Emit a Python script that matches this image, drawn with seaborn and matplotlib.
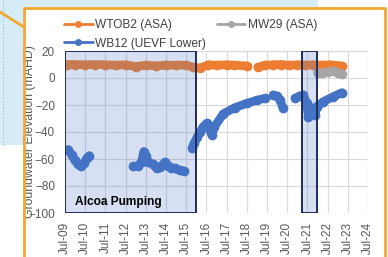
import numpy as np
import pandas as pd
import seaborn as sns
import matplotlib.pyplot as plt
from matplotlib.lines import Line2D
from matplotlib.patches import Rectangle

# Data (decimal years, groundwater elevation mAHD)
wtob2_years = [[2009.6, 2010.0, 2010.5, 2011.0, 2011.5, 2012.0, 2012.5, 2013.0, 2013.5, 2014.0,
                2014.5, 2015.0, 2015.5, 2015.85, 2016.2, 2016.6, 2017.0, 2017.5, 2017.85, 2018.5],
               [2019.05, 2019.4, 2019.8, 2020.2, 2020.6, 2021.0, 2021.4, 2021.8, 2022.2, 2022.6, 2023.2]]
wtob2_values = [[10.0, 10.0, 9.8, 10.0, 9.8, 9.5, 9.8, 8.5, 9.5, 9.0,
                 9.5, 9.5, 9.5, 8.0, 7.5, 9.8, 9.5, 9.8, 9.5, 9.0],
                [8.0, 9.5, 9.8, 10.0, 9.5, 9.8, 9.5, 9.8, 9.5, 9.8, 9.0]]

mw29_years = [[2022.0, 2022.2, 2022.5, 2022.8, 2023.0, 2023.2]]
mw29_values = [[4.0, 3.5, 4.5, 5.0, 4.0, 3.0]]

wb12_years = [[2009.66, 2009.83, 2009.99, 2010.16, 2010.29, 2010.44, 2010.57, 2010.70],
              [2012.88, 2013.12, 2013.29, 2013.40, 2013.49, 2013.62, 2013.87, 2014.03, 2014.20,
               2014.44, 2014.61, 2014.77, 2014.94, 2015.18, 2015.38],
              [2015.80, 2015.90, 2016.05, 2016.18, 2016.35, 2016.51, 2016.62, 2016.76, 2016.90,
               2017.34, 2017.90, 2018.50, 2019.00, 2019.40],
              [2019.81, 2020.00, 2020.14, 2020.30],
              [2020.89, 2021.10, 2021.30, 2021.46, 2021.55, 2021.71, 2021.88, 2021.96, 2022.29,
               2022.78, 2023.20]]
wb12_values = [[-53, -57, -61, -64, -65.5, -63, -59.5, -57.5],
               [-65.5, -65, -62, -54.5, -58, -62, -64, -67, -66, -62.5, -65, -66.5, -67, -68.5, -69],
               [-52, -48, -44, -40, -36, -33.6, -37, -42, -36, -26.5, -22, -18.8, -16.5, -15],
               [-12.6, -13.5, -16.3, -22.5],
               [-15, -13.5, -12.6, -18.8, -28.6, -22.5, -27.4, -21.2, -17.5, -13.8, -10.9]]

pumping_periods = [(2009.5, 2016.0), (2021.25, 2022.0)]
tick_years = [2009.5 + k for k in range(16)]
tick_labels = ['Jul-%02d' % (9 + k) for k in range(16)]

series = [('WTOB2 (ASA)', '#ed7d31', wtob2_years, wtob2_values),
          ('MW29 (ASA)', '#a5a5a5', mw29_years, mw29_values),
          ('WB12 (UEVF Lower)', '#4472c4', wb12_years, wb12_values)]

sns.set_theme(style='white')
plt.rcParams['font.family'] = ['Liberation Sans', 'DejaVu Sans']

fig = plt.figure(figsize=(3.88, 2.57), dpi=100)
ax = fig.add_axes([65 / 388, 1 - 213 / 257, 303 / 388, 162 / 257])

# slide decorations behind the chart
fig.patches.append(Rectangle((0, 1 - 7 / 257), 318 / 388, 7 / 257, transform=fig.transFigure,
                             facecolor='#d6edf9', edgecolor='none', zorder=0))
fig.patches.append(Rectangle((0, 1 - 145 / 257), 23 / 388, 145 / 257, transform=fig.transFigure,
                             facecolor='#d6edf9', edgecolor='none', zorder=0))
fig.lines.append(Line2D([3 / 388, 3 / 388], [1 - 145 / 257, 1], transform=fig.transFigure,
                        color='#9fb6c6', lw=0.6, ls=(0, (2, 2)), zorder=1))
orange = '#f0a830'
fig.lines.append(Line2D([0, 24 / 388], [1 - 12 / 257, 1 - 27 / 257], transform=fig.transFigure,
                        color=orange, lw=2, zorder=2))
fig.lines.append(Line2D([24 / 388, 24 / 388, 385 / 388, 385 / 388],
                        [0, 1 - 8 / 257, 1 - 8 / 257, 0], transform=fig.transFigure,
                        color=orange, lw=2, zorder=2))

for name, color, years, values in series:
    for seg_x, seg_y in zip(years, values):
        seg = pd.DataFrame({'year': seg_x, 'level': seg_y})
        sns.lineplot(data=seg, x='year', y='level', ax=ax, color=color, lw=6.2,
                     marker='o', markersize=7, markeredgewidth=0, sort=False,
                     estimator=None, solid_capstyle='round', solid_joinstyle='round')

for x0, x1 in pumping_periods:
    ax.add_patch(Rectangle((x0, -100), x1 - x0, 120, facecolor=(0.27, 0.45, 0.77, 0.22),
                           edgecolor='#1f2d5a', lw=1.4, zorder=5))

ax.text(2010.0, -91.5, 'Alcoa Pumping', fontsize=8.6, fontweight='bold', color='black',
        va='center', zorder=6)

ax.set_xlim(2009.5, 2024.5)
ax.set_ylim(-100, 20)
ax.set_xticks(tick_years)
ax.set_xticklabels(tick_labels, rotation=90)
ax.set_yticks(range(-100, 21, 20))
ax.grid(True, color='#d9d9d9', lw=0.8)
for s in ax.spines.values():
    s.set_visible(False)
ax.tick_params(axis='x', labelsize=8.5, colors='#595959', pad=6.5, length=0)
ax.tick_params(axis='y', labelsize=8.5, colors='#595959', pad=7.2, length=0)
ax.set_xlabel('')
ax.set_ylabel('Groundwater Elevation (mAHD)', fontsize=8.8, color='#595959')
ax.yaxis.set_label_coords(-0.097, 0.5)

handles = [Line2D([], [], color=c, lw=2, marker='o', markersize=5, markeredgewidth=0)
           for c in ['#ed7d31', '#4472c4', '#a5a5a5']]
labels = ['WTOB2 (ASA)', 'WB12 (UEVF Lower)', 'MW29 (ASA)']
fig.legend(handles, labels, ncol=2, loc='upper left', bbox_to_anchor=(64 / 388, 1 - 19 / 257),
           frameon=False, fontsize=8.6, handlelength=2.4, handletextpad=0.2,
           columnspacing=0.9, labelspacing=0.55, borderpad=0, borderaxespad=0,
           labelcolor='#404040')

fig.savefig('out.png', dpi=100)
